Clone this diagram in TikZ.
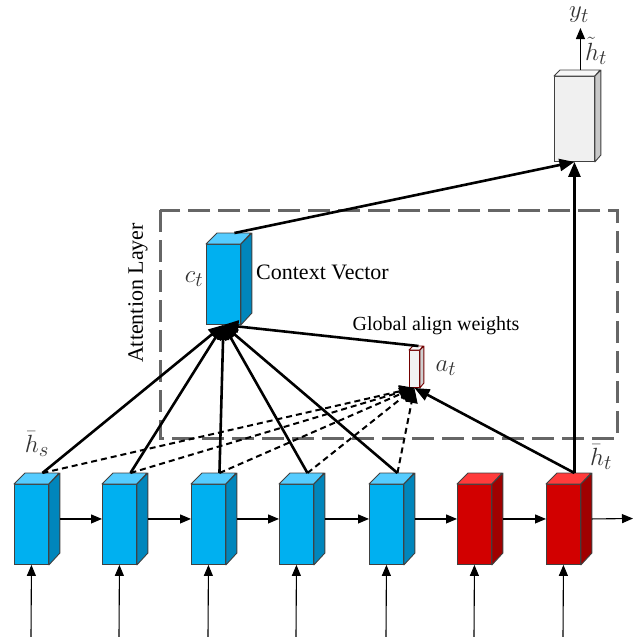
\documentclass[tikz,border=0pt]{standalone}
\usepackage{fontspec}
\setmainfont{Liberation Serif}
\usetikzlibrary{arrows.meta,calc}
\definecolor{cbfront}{HTML}{00B0F0}
\definecolor{cbtop}{HTML}{55CCFF}
\definecolor{cbside}{HTML}{0086BC}
\definecolor{crfront}{HTML}{D20000}
\definecolor{crtop}{HTML}{FF3B3B}
\definecolor{crside}{HTML}{A00000}
\definecolor{cgfront}{HTML}{F0F0F0}
\definecolor{cgtop}{HTML}{F7F7F7}
\definecolor{cgside}{HTML}{C8C8C8}
\definecolor{cafront}{HTML}{F2F2F2}
\definecolor{catop}{HTML}{F8F8F8}
\definecolor{caside}{HTML}{D0D0D0}
\newcommand{\mycube}[8]{%
 \node[draw=#8, line width=0.9pt, fill=#7front, minimum width=#4pt, minimum height=#5pt, inner sep=0pt, anchor=north west] (#1) at (#2,#3) {};
 \draw[draw=#8, line width=0.9pt, fill=#7top, line join=round] (#1.north west) -- ++(#6pt,#6pt) -- ++(#4pt,0pt) -- (#1.north east) -- cycle;
 \draw[draw=#8, line width=0.9pt, fill=#7side, line join=round] (#1.north east) -- ++(#6pt,#6pt) -- ++(0pt,-#5pt) -- (#1.south east) -- cycle;
 \path (#1.north) ++(#6pt,#6pt) coordinate (#1t);
}
\tikzset{
  thin arrow/.style={line width=1.1pt, -{Triangle[length=11pt,width=9pt]}},
  bold arrow/.style={line width=2.6pt, -{Triangle[length=15pt,width=12pt]}},
  dash arrow/.style={line width=2pt, dash pattern=on 6pt off 4pt, -{Triangle[length=15pt,width=12pt]}},
  lbl/.style={font=\fontsize{22}{26}\selectfont, inner sep=0pt},
  mlbl/.style={font=\Huge, inner sep=0pt, text=black!80},
}
\begin{document}
\begin{tikzpicture}[x=1pt,y=-1pt]
\useasboundingbox (0,0) rectangle (633,637);
% attention layer frame
\draw[draw=black!60, line width=3pt, dash pattern=on 22pt off 8pt] (160,210) rectangle (617,438);
\node[lbl, rotate=90] (attl) at (138,293) {Attention Layer};
% bottom cubes
\mycube{b1}{14}{484}{34}{80}{11}{cb}{black!75}
\mycube{b2}{102}{484}{34}{80}{11}{cb}{black!75}
\mycube{b3}{191}{484}{34}{80}{11}{cb}{black!75}
\mycube{b4}{279}{484}{34}{80}{11}{cb}{black!75}
\mycube{b5}{369}{484}{34}{80}{11}{cb}{black!75}
\mycube{b6}{457}{484}{34}{80}{11}{cr}{black!75}
\mycube{b7}{546}{484}{34}{80}{11}{cr}{black!75}
% context, attention weights, output
\mycube{ctx}{206}{244}{34}{80}{11}{cb}{black!75}
\mycube{at}{409}{350}{10}{37}{4}{ca}{red!45!black}
\mycube{out}{554}{76}{40}{85}{6}{cg}{black!75}
% inputs
\foreach \i/\x in {1/31,2/119,3/208,4/296,5/386,6/474,7/563}{
  \coordinate (in\i) at (\x,637);
  \draw[thin arrow] (in\i) -- (b\i.south);
}
% recurrent arrows
\foreach \i/\j in {1/2,2/3,3/4,4/5,5/6,6/7}{
  \draw[thin arrow] ($(b\i.east)+(11pt,5.5pt)$) -- ($(b\j.west)+(0pt,5.5pt)$);
}
\coordinate (endr) at (633,518.5);
\draw[thin arrow] ($(b7.east)+(11pt,5.5pt)$) -- (endr);
% dashed scores
\foreach \i in {1,...,5}{
  \draw[dash arrow] (b\i t) -- (at.south);
}
\draw[bold arrow] (b7t) -- (at.south);
% context sums
\foreach \i in {1,...,5}{
  \draw[bold arrow] (b\i t) -- (ctx.south);
}
\draw[bold arrow] (att) -- (ctx.south);
% outputs
\draw[bold arrow] (ctxt) -- (out.south);
\draw[bold arrow] (b7t) -- (out.south);
\coordinate (ytop) at ($(outt)+(0pt,42pt)$);
\draw[thin arrow] (outt) -- (ytop);
% labels
\node[lbl, anchor=west] (cvl) at (256,272) {Context Vector};
\node[font=\fontsize{20}{24}\selectfont, inner sep=0pt] (gaw) at (436,326) {Global align weights};
\node[mlbl] (ctl) at (194,279) {$c_t$};
\node[mlbl] (atl) at (446,368) {$a_t$};
\node[mlbl] (ytl) at (579,15) {$y_t$};
\node[mlbl] (htl) at (596,51) {$\tilde h_t$};
\node[mlbl] (hsl) at (37,444) {$\bar h_s$};
\node[mlbl] (hbl) at (601,457) {$\bar h_t$};
\end{tikzpicture}
\end{document}
